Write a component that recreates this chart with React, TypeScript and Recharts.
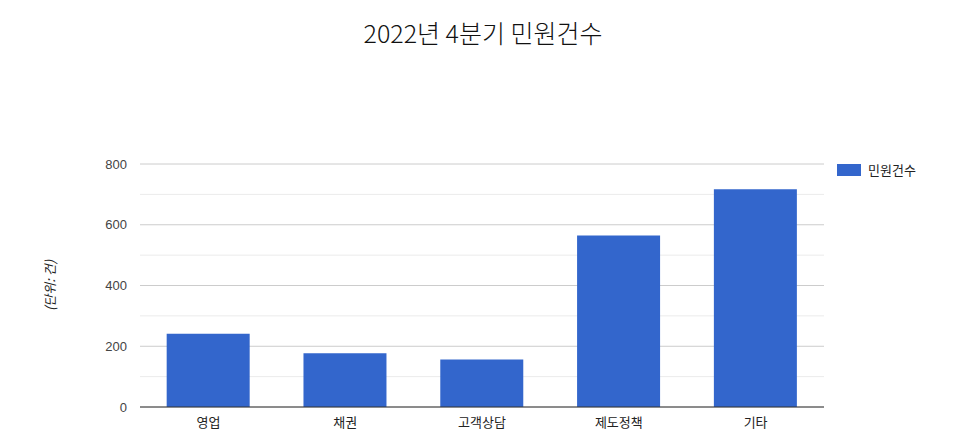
import React from 'react';
import { BarChart, Bar, XAxis, YAxis, CartesianGrid } from 'recharts';

const categories = ['영업', '채권', '고객상담', '제도정책', '기타'];
const complaints = [241, 177, 156, 565, 717];
const majorTicks = [0, 200, 400, 600, 800];
const minorTicks = [100, 300, 500, 700];

const data = categories.map((name, i) => ({ name, value: complaints[i] }));

const LATIN = "Arial, 'Liberation Sans', 'Noto Sans CJK KR', sans-serif";
const KOREAN = "'Noto Sans CJK KR', 'Noto Sans', sans-serif";

const App: React.FC = () => {
  return (
    <div style={{ position: 'absolute', left: 0, top: 0, width: 960, height: 445, background: '#fff' }}>
      <div
        style={{
          position: 'absolute',
          top: 19,
          left: 0,
          width: 966,
          textAlign: 'center',
          fontFamily: KOREAN,
          fontSize: 25,
          fontWeight: 300,
          lineHeight: '26px',
          color: '#111',
        }}
      >
        2022년 4분기 민원건수
      </div>
      <div
        style={{
          position: 'absolute',
          top: 160,
          left: 837,
          display: 'flex',
          alignItems: 'center',
          fontFamily: KOREAN,
          fontSize: 13,
          color: '#222',
        }}
      >
        <span style={{ width: 24, height: 12, background: '#3366cc', display: 'inline-block', marginRight: 7 }} />
        <span>민원건수</span>
      </div>
      <BarChart
        width={960}
        height={445}
        data={data}
        margin={{ top: 164, right: 136, bottom: 8, left: 30 }}
        barCategoryGap="19.5%"
      >
        <CartesianGrid vertical={false} stroke="#ebebeb" horizontalValues={minorTicks} />
        <CartesianGrid vertical={false} stroke="#cccccc" horizontalValues={majorTicks} />
        <XAxis
          dataKey="name"
          height={30}
          axisLine={{ stroke: '#333333' }}
          tickLine={false}
          tickSize={0}
          tickMargin={11}
          tick={{ fill: '#222', fontSize: 13, fontFamily: KOREAN }}
        />
        <YAxis
          width={110}
          domain={[0, 800]}
          ticks={majorTicks}
          axisLine={false}
          tickLine={false}
          tickSize={0}
          tickMargin={13}
          tick={{ fill: '#444', fontSize: 13, fontFamily: LATIN }}
          label={{
            value: '(단위: 건)',
            angle: -90,
            position: 'insideLeft',
            offset: 20,
            style: { textAnchor: 'middle', fontStyle: 'italic', fill: '#222', fontSize: 13, fontFamily: KOREAN },
          }}
        />
        <Bar dataKey="value" name="민원건수" fill="#3366cc" isAnimationActive={false} />
      </BarChart>
    </div>
  );
};

export default App;
